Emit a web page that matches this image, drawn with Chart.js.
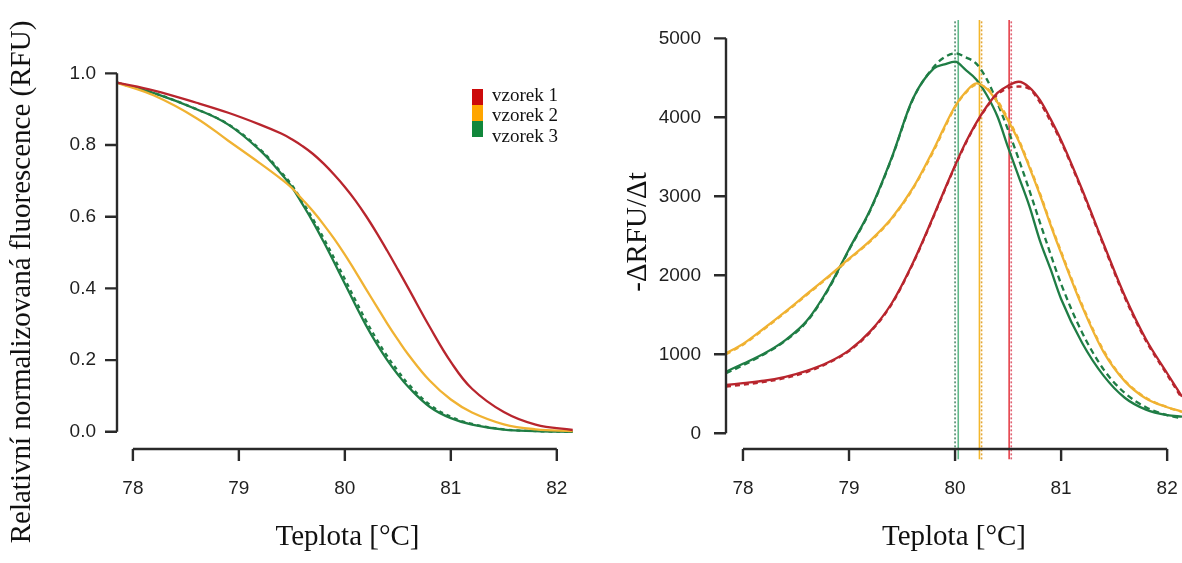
<!DOCTYPE html>
<html>
<head>
<meta charset="utf-8">
<script src="https://cdn.jsdelivr.net/npm/chart.js@4.4.0/dist/chart.umd.min.js"></script>
<style>
    body { margin: 0; background: #fff; width: 1182px; height: 563px; position: relative; overflow: hidden; }
    .panel { position: absolute; top: 0; height: 563px; }
    #left-panel { left: 0; width: 590px; }
    #right-panel { left: 590px; width: 592px; }
</style>
</head>
<body>
<div class="panel" id="left-panel"><canvas id="meltChart"></canvas></div>
<div class="panel" id="right-panel"><canvas id="derivChart"></canvas></div>
<script>
// samples
const sampleNames = ['vzorek 1', 'vzorek 2', 'vzorek 3'];
const curveColors = ['#b8252d', '#f0b232', '#1f7d45'];
const legendColors = ['#cc0a0a', '#ffa500', '#11873b'];

// left panel: normalized melt curves
const meltTemps = [77.85, 78.2, 78.6, 78.9, 79.2, 79.4, 79.5, 79.6, 79.7, 79.8, 79.9, 80.0, 80.1, 80.2, 80.3, 80.4, 80.5, 80.6, 80.8, 81.0, 81.2, 81.5, 81.8, 82.15];
const meltRed = [0.974, 0.952, 0.918, 0.890, 0.857, 0.832, 0.816, 0.797, 0.775, 0.748, 0.717, 0.683, 0.645, 0.602, 0.555, 0.505, 0.453, 0.400, 0.293, 0.195, 0.120, 0.055, 0.020, 0.005];
const meltOrange = [0.974, 0.938, 0.875, 0.812, 0.749, 0.705, 0.680, 0.648, 0.615, 0.578, 0.538, 0.494, 0.447, 0.398, 0.350, 0.302, 0.257, 0.215, 0.143, 0.090, 0.054, 0.021, 0.007, 0.002];
const meltGreen = [0.974, 0.945, 0.900, 0.857, 0.785, 0.720, 0.683, 0.635, 0.585, 0.530, 0.472, 0.413, 0.354, 0.297, 0.246, 0.200, 0.160, 0.125, 0.070, 0.038, 0.020, 0.006, 0.002, 0.000];
const meltGreenRep = [0.974, 0.945, 0.900, 0.858, 0.788, 0.724, 0.688, 0.642, 0.593, 0.540, 0.484, 0.426, 0.367, 0.310, 0.258, 0.211, 0.170, 0.133, 0.076, 0.042, 0.022, 0.007, 0.002, 0.000];
const meltXTicks = [78, 79, 80, 81, 82];
const meltYTicks = [0, 0.2, 0.4, 0.6, 0.8, 1.0];

// right panel: -dRFU/dt
const derivTemps = [77.84, 78.0, 78.2, 78.4, 78.6, 78.8, 79.0, 79.2, 79.4, 79.6, 79.8, 79.9, 80.0, 80.1, 80.2, 80.3, 80.4, 80.5, 80.6, 80.7, 80.8, 80.9, 81.0, 81.2, 81.4, 81.6, 81.8, 82.0, 82.14];
const derivRed = [611, 635, 665, 715, 790, 895, 1050, 1290, 1640, 2150, 2760, 3080, 3390, 3680, 3930, 4140, 4310, 4400, 4450, 4380, 4220, 3980, 3710, 3080, 2400, 1740, 1190, 760, 463];
const derivRedRep = [590, 615, 650, 700, 775, 885, 1040, 1280, 1630, 2140, 2750, 3070, 3380, 3670, 3920, 4130, 4290, 4370, 4390, 4360, 4190, 3950, 3690, 3060, 2380, 1720, 1170, 740, 440];
const derivOrange = [1013, 1130, 1330, 1540, 1760, 1980, 2210, 2440, 2720, 3100, 3600, 3880, 4140, 4320, 4430, 4360, 4190, 3960, 3700, 3370, 3020, 2640, 2280, 1600, 1030, 660, 440, 330, 274];
const derivOrangeRep = [1000, 1120, 1320, 1530, 1750, 1970, 2200, 2430, 2710, 3090, 3580, 3860, 4130, 4310, 4410, 4370, 4210, 3980, 3720, 3390, 3040, 2660, 2300, 1620, 1050, 670, 450, 330, 270];
const derivGreen = [780, 880, 1010, 1180, 1420, 1820, 2330, 2830, 3480, 4230, 4620, 4670, 4704, 4600, 4480, 4280, 4010, 3620, 3250, 2880, 2440, 2080, 1700, 1140, 730, 450, 300, 230, 210];
const derivGreenRep = [760, 860, 1000, 1170, 1410, 1810, 2320, 2820, 3470, 4220, 4640, 4760, 4810, 4760, 4680, 4480, 4180, 3840, 3470, 3080, 2670, 2270, 1890, 1270, 810, 510, 330, 230, 190];
const derivXTicks = [78, 79, 80, 81, 82];
const derivYTicks = [0, 1000, 2000, 3000, 4000, 5000];

// melting temperatures (vertical lines)
const peakTemps = [80.51, 80.23, 80.03];
const peakTempsRep = [80.53, 80.25, 80.00];
const peakColors = ['#e5404a', '#f4b72c', '#62b98a'];
const peakRepColors = ['#e06070', '#e3a636', '#4f8c6c'];
const peakSpan = [-330, 5240];

const tickFont = { family: "'Liberation Sans', Arial, Helvetica, sans-serif", size: 19 };
const serifFamily = "'Liberation Serif', 'Times New Roman', serif";

// R-like axes: line only between first and last tick, placed at plot edge
const rAxes = {
    id: 'rAxes',
    afterDraw(chart) {
        const { ctx, chartArea, scales: { x, y } } = chart;
        const xs = x.ticks.map(t => x.getPixelForValue(t.value));
        const ys = y.ticks.map(t => y.getPixelForValue(t.value));
        ctx.save();
        ctx.strokeStyle = '#2a2a2a';
        ctx.lineWidth = 2.4;
        ctx.beginPath();
        ctx.moveTo(xs[0], chartArea.bottom);
        ctx.lineTo(xs[xs.length - 1], chartArea.bottom);
        xs.forEach(px => { ctx.moveTo(px, chartArea.bottom); ctx.lineTo(px, chartArea.bottom + 12); });
        ctx.moveTo(chartArea.left, ys[0]);
        ctx.lineTo(chartArea.left, ys[ys.length - 1]);
        ys.forEach(py => { ctx.moveTo(chartArea.left, py); ctx.lineTo(chartArea.left - 12, py); });
        ctx.stroke();
        ctx.restore();
    }
};

const sideTitle = {
    id: 'sideTitle',
    afterDraw(chart, args, opts) {
        const ctx = chart.ctx;
        ctx.save();
        ctx.translate(opts.x, opts.y);
        ctx.rotate(-Math.PI / 2);
        ctx.font = '29px ' + serifFamily;
        ctx.fillStyle = '#111';
        ctx.textAlign = 'center';
        ctx.textBaseline = 'middle';
        ctx.fillText(opts.text, 0, 0);
        ctx.restore();
    }
};

const boxLegend = {
    id: 'boxLegend',
    afterDraw(chart, args, opts) {
        if (!opts.show) return;
        const ctx = chart.ctx;
        ctx.save();
        ctx.font = '19px ' + serifFamily;
        ctx.textBaseline = 'middle';
        sampleNames.forEach((name, i) => {
            ctx.fillStyle = legendColors[i];
            ctx.fillRect(opts.x, opts.y + i * 16, 11, 16);
            ctx.fillStyle = '#111';
            ctx.fillText(name, opts.x + 20, opts.y + 7 + i * 20.5);
        });
        ctx.restore();
    }
};

function curve(label, xs, ys, color, dash, smooth) {
    const ds = {
        label: label,
        data: xs.map((t, i) => ({ x: t, y: ys[i] })),
        borderColor: color,
        borderWidth: 2.3,
        borderDash: dash || [],
        pointRadius: 0,
        fill: false
    };
    if (smooth) ds.tension = 0.4;
    else ds.cubicInterpolationMode = 'monotone';
    return ds;
}

function vline(t, color, dash) {
    return {
        data: peakSpan.map(v => ({ x: t, y: v })),
        borderColor: color,
        borderWidth: 1.6,
        borderDash: dash || [],
        pointRadius: 0,
        clip: { left: 2, right: 2, top: 0, bottom: 12 }
    };
}

function scalesFor(xMin, xMax, yMin, yMax, xTicks, yTicks, yWidth, yGap, fmt) {
    return {
        x: {
            type: 'linear', min: xMin, max: xMax,
            grid: { display: false, drawTicks: true, tickLength: 28 }, border: { display: false },
            afterBuildTicks: s => { s.ticks = xTicks.map(v => ({ value: v })); },
            afterFit: s => { s.height = 114; },
            ticks: { font: tickFont, color: '#1f1f1f', padding: 0, maxRotation: 0, callback: v => String(v) },
            title: { display: true, text: 'Teplota [°C]', color: '#111', font: { family: serifFamily, size: 29 }, padding: { top: 0, bottom: 8 } }
        },
        y: {
            type: 'linear', min: yMin, max: yMax,
            grid: { display: false, drawTicks: true, tickLength: yGap }, border: { display: false },
            afterBuildTicks: s => { s.ticks = yTicks.map(v => ({ value: v })); },
            afterFit: s => { s.width = yWidth; },
            ticks: { font: tickFont, color: '#1f1f1f', padding: 0, callback: fmt }
        }
    };
}

new Chart(document.getElementById('meltChart'), {
    type: 'line',
    data: {
        datasets: [
            curve(sampleNames[0], meltTemps, meltRed, curveColors[0], null, true),
            curve(sampleNames[1], meltTemps, meltOrange, curveColors[1], null, true),
            curve(sampleNames[2], meltTemps, meltGreen, curveColors[2], null, true),
            curve(sampleNames[2] + ' (opak.)', meltTemps, meltGreenRep, curveColors[2], [4, 4], true)
        ]
    },
    options: {
        responsive: true, maintainAspectRatio: false, animation: false,
        layout: { padding: { left: 0, top: 59, right: 12, bottom: 0 } },
        scales: scalesFor(77.85, 82.2, -0.048, 1.04, meltXTicks, meltYTicks, 117, 21, v => v.toFixed(1)),
        plugins: {
            legend: { display: false }, tooltip: { enabled: false },
            sideTitle: { text: 'Relativní normalizovaná fluorescence (RFU)', x: 22, y: 282 },
            boxLegend: { show: true, x: 472, y: 89 }
        }
    },
    plugins: [rAxes, sideTitle, boxLegend]
});

new Chart(document.getElementById('derivChart'), {
    type: 'line',
    data: {
        datasets: [
            curve(sampleNames[0], derivTemps, derivRed, curveColors[0]),
            curve(sampleNames[1], derivTemps, derivOrange, curveColors[1]),
            curve(sampleNames[2], derivTemps, derivGreen, curveColors[2]),
            curve(sampleNames[0] + ' (opak.)', derivTemps, derivRedRep, curveColors[0], [5, 4]),
            curve(sampleNames[1] + ' (opak.)', derivTemps, derivOrangeRep, curveColors[1], [5, 4]),
            curve(sampleNames[2] + ' (opak.)', derivTemps, derivGreenRep, curveColors[2], [6, 4]),
            ...peakTemps.map((t, i) => vline(t, peakColors[i])),
            ...peakTempsRep.map((t, i) => vline(t, peakRepColors[i], [2, 2]))
        ]
    },
    options: {
        responsive: true, maintainAspectRatio: false, animation: false,
        layout: { padding: { left: 0, top: 20, right: 0, bottom: 0 } },
        scales: scalesFor(77.84, 82.14, -199, 5232, derivXTicks, derivYTicks, 136, 25, v => String(v)),
        plugins: {
            legend: { display: false }, tooltip: { enabled: false },
            sideTitle: { text: '-ΔRFU/Δt', x: 48, y: 232 },
            boxLegend: { show: false }
        }
    },
    plugins: [rAxes, sideTitle, boxLegend]
});
</script>
</body>
</html>
